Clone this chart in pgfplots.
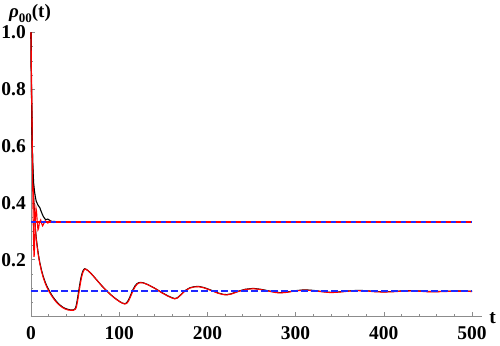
\documentclass[border=0pt]{standalone}
\usepackage{pgfplots}
\pgfplotsset{compat=1.18}
\usepackage{fontspec}
\setmainfont{Liberation Serif}
\definecolor{axisgray}{gray}{0.55}
\definecolor{lineblue}{RGB}{30,40,255}

\begin{document}
\begin{tikzpicture}
  \useasboundingbox (-31pt,-28.5pt) rectangle (469pt,316.5pt);
  \begin{axis}[
    at={(0,0)}, anchor=south west,
    scale only axis, width=450.7pt, height=284pt,
    xmin=0, xmax=511, ymin=0, ymax=1,
    axis x line=bottom, axis y line=left,
    axis line style={-, draw=axisgray, line width=0.7pt},
    tick align=inside,
    major tick length=4.5pt, minor tick length=2.5pt,
    every tick/.style={axisgray, line width=0.6pt},
    xtick={0,100,200,300,400,500},
    xticklabels={0,100,200,300,400,500},
    minor x tick num=4,
    ytick={0,0.2,0.4,0.6,0.8,1.0},
    yticklabels={,0.2,0.4,0.6,0.8,1.0},
    minor y tick num=3,
    tick label style={font=\fontsize{19.5}{22}\selectfont\bfseries, text=black},
    xticklabel style={anchor=north, inner sep=0pt, yshift=-10pt},
    yticklabel style={anchor=east, inner sep=0pt, xshift=-5pt},
    xlabel={t}, ylabel={{\itshape ρ}\raisebox{-0.3em}{\fontsize{13}{14}\selectfont 00}(t)},
    every axis x label/.style={at={(axis description cs:1,0)}, anchor=center, xshift=11pt, yshift=-1.5pt, font=\fontsize{19.5}{22}\selectfont\bfseries},
    every axis y label/.style={at={(axis description cs:0,1)}, anchor=center, xshift=-1pt, yshift=19pt, font=\fontsize{19}{22}\selectfont\bfseries},
    clip=false,
  ]
  % lower pair
  \addplot[black, line width=1.1pt] coordinates {(0,1)(0.5,0.82)(1,0.7)(1.5,0.6)(2,0.52)(3,0.42)(4,0.36)(5,0.31)(6,0.275)(7,0.25)(8,0.227)(9,0.207)(10,0.19)(12,0.162)(14,0.14)(16,0.122)(18,0.107)(21,0.089)(24,0.073)(27,0.06)(30,0.049)(33,0.04)(36,0.033)(39,0.028)(42,0.025)(45,0.023)(48,0.023)(50,0.027)(51,0.035)(52,0.05)(53,0.068)(54,0.088)(55,0.108)(56,0.126)(57,0.141)(58,0.153)(59,0.161)(60,0.166)(61,0.168)(62,0.167)(64,0.163)(67,0.155)(70,0.145)(75,0.127)(80,0.109)(85,0.093)(90,0.078)(95,0.065)(100,0.054)(103,0.048)(106,0.045)(108,0.047)(110,0.055)(112,0.068)(114,0.083)(116,0.097)(118,0.108)(120,0.115)(122,0.119)(124,0.12)(127,0.119)(132,0.113)(140,0.1)(148,0.085)(155,0.073)(160,0.066)(163,0.063)(166,0.066)(170,0.077)(175,0.092)(180,0.101)(185,0.105)(190,0.106)(196,0.102)(204,0.093)(212,0.083)(218,0.078)(222,0.077)(227,0.08)(235,0.089)(243,0.096)(252,0.099)(260,0.096)(270,0.09)(278,0.085)(283,0.084)(290,0.086)(300,0.091)(310,0.094)(320,0.092)(330,0.088)(340,0.085)(350,0.087)(360,0.09)(370,0.092)(380,0.091)(390,0.088)(400,0.087)(410,0.088)(420,0.09)(430,0.091)(440,0.09)(450,0.088)(460,0.088)(470,0.089)(480,0.09)(490,0.09)(500,0.089)};
  \addplot[red, line width=1.1pt] coordinates {(0,1)(0.5,0.81)(1,0.69)(1.5,0.59)(2,0.51)(3,0.41)(4,0.35)(5,0.305)(6,0.27)(7,0.245)(8,0.222)(9,0.203)(10,0.186)(12,0.158)(14,0.136)(16,0.118)(18,0.103)(21,0.085)(24,0.07)(27,0.057)(30,0.046)(33,0.038)(36,0.031)(39,0.026)(42,0.023)(45,0.022)(48,0.022)(50.5,0.026)(51.5,0.034)(52.5,0.049)(53.5,0.067)(54.5,0.087)(55.5,0.107)(56.5,0.125)(57.5,0.14)(58.5,0.152)(59.5,0.16)(60.5,0.165)(61.5,0.167)(62.5,0.166)(64.5,0.162)(67.5,0.153)(70.5,0.143)(75.5,0.125)(80.5,0.107)(85.5,0.091)(90.5,0.076)(95.5,0.063)(100.5,0.052)(103.5,0.047)(106.5,0.044)(108.5,0.046)(110.5,0.054)(112.5,0.067)(114.5,0.082)(116.5,0.096)(118.5,0.107)(120.5,0.114)(122.5,0.118)(124.5,0.119)(127.5,0.118)(132.5,0.112)(140.5,0.099)(148,0.084)(155,0.072)(160,0.065)(163,0.062)(166,0.065)(170,0.076)(175,0.091)(180,0.1)(185,0.104)(190,0.105)(196,0.101)(204,0.092)(212,0.082)(218,0.077)(222,0.076)(227,0.079)(235,0.088)(243,0.095)(252,0.098)(260,0.095)(270,0.089)(278,0.084)(283,0.083)(290,0.085)(300,0.09)(310,0.093)(320,0.091)(330,0.087)(340,0.084)(350,0.086)(360,0.089)(370,0.091)(380,0.09)(390,0.087)(400,0.086)(410,0.087)(420,0.089)(430,0.09)(440,0.089)(450,0.087)(460,0.087)(470,0.088)(480,0.089)(490,0.089)(500,0.088)};
  % upper pair
  \addplot[black, line width=1.1pt] coordinates {(0,1)(0.5,0.8)(1,0.67)(1.5,0.59)(2,0.53)(3,0.47)(4,0.44)(5,0.42)(6,0.405)(8,0.392)(10,0.383)(12,0.366)(14,0.352)(16,0.343)(17,0.341)(18,0.342)(19,0.343)(20,0.341)(22,0.337)(24,0.334)(26,0.335)(28,0.334)(30,0.3333)};
  \addplot[red, line width=1.1pt] coordinates {(0,1)(0.5,0.86)(1,0.72)(1.5,0.58)(2,0.45)(2.5,0.34)(3,0.25)(3.4,0.21)(3.8,0.22)(4.3,0.28)(5,0.35)(5.7,0.381)(6.3,0.37)(7,0.335)(7.9,0.305)(8.6,0.31)(9.5,0.33)(11,0.34)(12,0.328)(13.2,0.319)(14.5,0.327)(16.2,0.337)(17.5,0.333)(19,0.329)(20.5,0.332)(22,0.336)(24,0.333)(26,0.331)(28,0.334)(30,0.3333)};
  % steady-state lines
  \addplot[color=lineblue, line width=1.5pt, dash pattern=on 5pt off 5pt] coordinates {(0,0.3333)(500,0.3333)};
  \addplot[color=red, line width=1.5pt, dash pattern=on 5pt off 5pt, dash phase=5pt] coordinates {(0,0.3333)(500,0.3333)};
  \addplot[color=lineblue, line width=1.5pt, dash pattern=on 6.5pt off 3.5pt] coordinates {(0,0.089)(500,0.089)};
  \end{axis}
\end{tikzpicture}
\end{document}
